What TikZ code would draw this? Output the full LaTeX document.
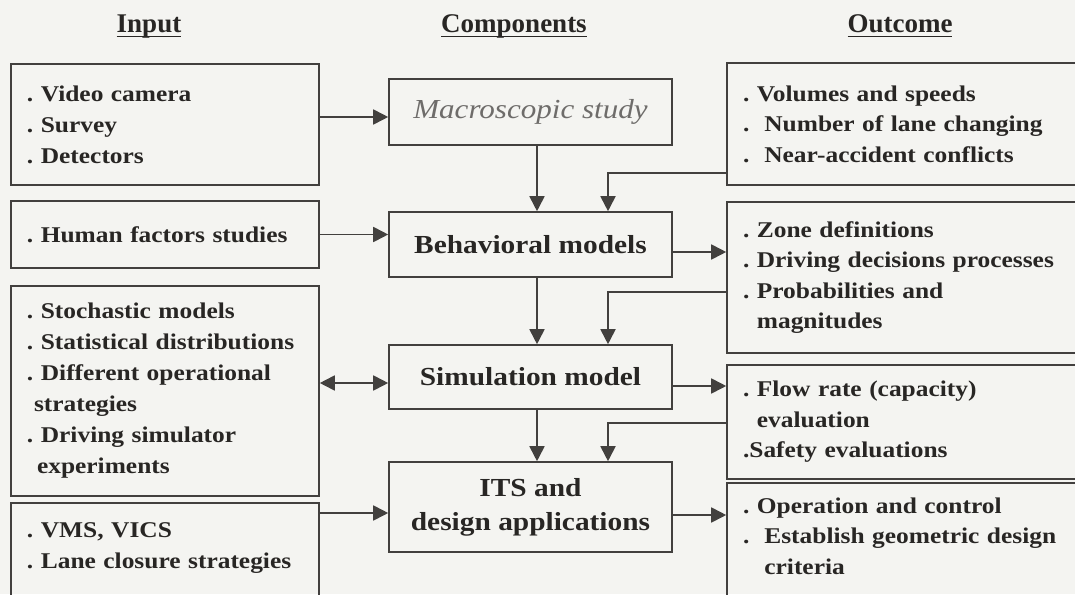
\documentclass[tikz,border=0pt]{standalone}
\usepackage{fontspec}
\setmainfont{Liberation Serif}
\newfontfamily\wideserif[FakeStretch=1.13]{Liberation Serif}
\usetikzlibrary{arrows.meta,positioning,calc}
\definecolor{paper}{RGB}{244,244,241}
\definecolor{ink}{RGB}{40,38,36}
\definecolor{rule}{RGB}{66,64,62}
\definecolor{faded}{RGB}{110,108,106}
\newcommand{\hdline}[1]{\setbox0\hbox{#1}\rlap{\rule[-4.5pt]{\wd0}{1.5pt}}\box0}
\frenchspacing

\begin{document}
\begin{tikzpicture}[
    x=1pt, y=-1pt,
    head/.style={anchor=base, text=ink, font=\bfseries\fontsize{27}{30}\selectfont},
    inbox/.style={draw=rule, line width=1.6pt, rectangle, text=ink, align=left, text width=276pt, inner xsep=16pt, font=\wideserif\bfseries\fontsize{22.5}{31}\selectfont},
    outbox/.style={draw=rule, line width=1.6pt, rectangle, text=ink, align=left, text width=341pt, inner xsep=16pt, font=\wideserif\bfseries\fontsize{22.5}{30.5}\selectfont},
    comp/.style={draw=rule, line width=1.6pt, rectangle, text=ink, minimum width=283pt, align=center, font=\wideserif\bfseries\fontsize{26}{34}\selectfont},
    arrow/.style={->, >={Triangle[length=15pt,width=15pt]}, line width=1.8pt, draw=rule}
]
\clip (0,0) rectangle (1075,594);
\fill[paper] (0,0) rectangle (1075,594);

% Column heads
\node[head] (hin) at (149,33) {\hdline{Input}};
\node[head] (hcomp) at (514,33) {\hdline{Components}};
\node[head] (hout) at (900,33) {\hdline{Outcome}};

% Input boxes
\node[inbox, minimum height=121pt] (l1) at (165,124.5) {. Video camera\\. Survey\\. Detectors};
\node[inbox, minimum height=67pt] (l2) at (165,234.5) {. Human factors studies};
\node[inbox, minimum height=210pt] (l3) at (165,391) {. Stochastic models\\. Statistical distributions\\. Different operational\\\hspace{7pt}strategies\\. Driving simulator\\\hspace{10pt}experiments};
\node[inbox, minimum height=126pt] (l4) at (165,566) {. VMS, VICS\\. Lane closure strategies\\\strut};

% Components
\node[comp, minimum height=66pt, text=faded, font=\wideserif\itshape\fontsize{27.5}{34}\selectfont] (m1) at (530.5,112) {Macroscopic study};
\node[comp, minimum height=65pt] (m2) at (530.5,244.5) {Behavioral models};
\node[comp, minimum height=64pt] (m3) at (530.5,377) {Simulation model};
\node[comp, minimum height=90pt] (m4) at (530.5,507) {ITS and\\design applications};

% Outcome boxes
\node[outbox, minimum height=122pt] (r1) at (913.5,124) {. Volumes and speeds\\.\ \ Number of lane changing\\.\ \ Near-accident conflicts};
\node[outbox, minimum height=151pt] (r2) at (913.5,277.5) {. Zone definitions\\. Driving decisions processes\\. Probabilities and\\\phantom{.\ }magnitudes};
\node[outbox, minimum height=114pt] (r3) at (913.5,422) {. Flow rate (capacity)\\\phantom{.\ }evaluation\\.Safety evaluations};
\node[outbox, minimum height=146pt] (r4) at (913.5,556) {. Operation and control\\.\ \ Establish geometric design\\\phantom{.\ \ }criteria\\\strut};

% Input to components
\coordinate (p1) at ([yshift=-5pt]m1.west);
\draw[arrow] (l1.east |- p1) -- (p1);
\draw[arrow] (l2.east) -- (l2.east -| m2.west);
\coordinate (p3) at ([yshift=-6pt]m3.west);
\draw[arrow, <->] (l3.east |- p3) -- (p3);
\coordinate (p4) at ([yshift=-6pt]m4.west);
\draw[arrow] (l4.east |- p4) -- (p4);

% Components to outcome
\coordinate (q2) at ([yshift=-7.5pt]m2.east);
\draw[arrow] (q2) -- (q2 -| r2.west);
\coordinate (q3) at ([yshift=-9pt]m3.east);
\draw[arrow] (q3) -- (q3 -| r3.west);
\coordinate (q4) at ([yshift=-8pt]m4.east);
\draw[arrow] (q4) -- (q4 -| r4.west);

% Down the components
\draw[arrow] ([xshift=6.5pt]m1.south) -- ([xshift=6.5pt]m2.north);
\draw[arrow] ([xshift=6.5pt]m2.south) -- ([xshift=6.5pt]m3.north);
\draw[arrow] ([xshift=6.5pt]m3.south) -- ([xshift=6.5pt]m4.north);

% Feedback from outcome
\draw[arrow] ([yshift=13pt]r1.south west) -| ([xshift=77.5pt]m2.north);
\draw[arrow] ([yshift=-14.5pt]r2.west) -| ([xshift=77.5pt]m3.north);
\draw[arrow] ([yshift=-1pt]r3.west) -| ([xshift=77.5pt]m4.north);

\end{tikzpicture}
\end{document}
